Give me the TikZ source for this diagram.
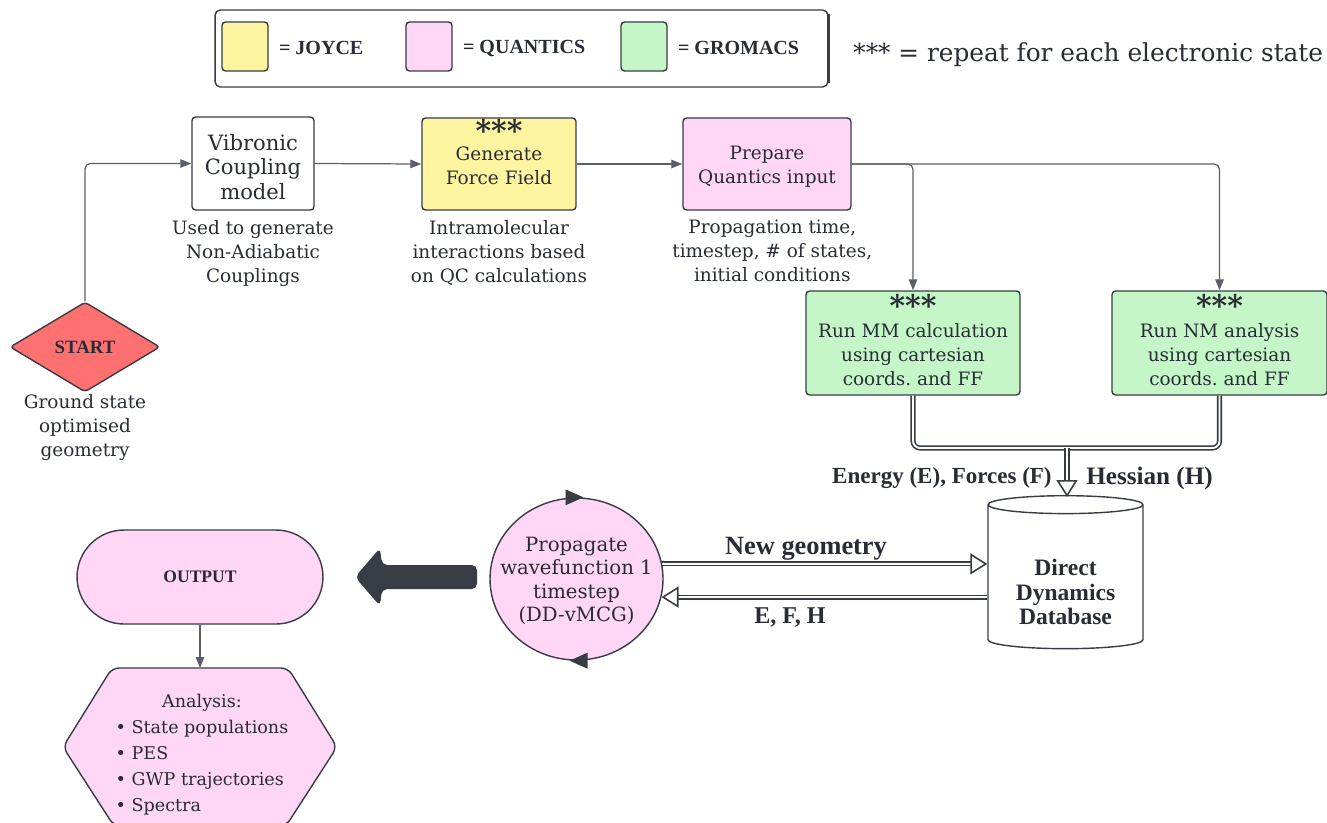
\documentclass[tikz,border=0pt]{standalone}
\usepackage{fontspec}
\setmainfont{DejaVu Serif}
\newfontfamily\labfont{Liberation Serif}
\usetikzlibrary{shapes.geometric,shapes.misc,arrows.meta,positioning}

\definecolor{joyce}{RGB}{255,245,160}
\definecolor{quant}{RGB}{255,214,245}
\definecolor{grom}{RGB}{196,246,200}
\definecolor{startred}{RGB}{255,112,112}
\definecolor{edge}{RGB}{56,61,69}
\definecolor{ink}{RGB}{40,44,52}
\definecolor{wire}{RGB}{90,95,105}

\newcommand{\bodyfont}{\fontsize{10.5}{13.7}\selectfont}
\newcommand{\starfont}{\bfseries\fontsize{17}{14}\selectfont}
\newcommand{\labbold}[1]{\labfont\bfseries\fontsize{#1}{14}\selectfont}

\tikzset{
  box/.style={draw=edge, line width=0.8pt, rounded corners=2pt, align=center, text=ink, font=\bodyfont, inner sep=0pt},
  txt/.style={align=center, text=ink, font=\bodyfont, inner sep=0pt},
  blab/.style={text=ink, font=\labbold{13}, inner sep=0pt},
  conn/.style={draw=wire, line width=0.7pt, rounded corners=3pt, -{Triangle[length=0.22cm, width=0.17cm]}},
  dbl/.style={draw=edge, double=white, double distance=1.1pt, line width=0.9pt, rounded corners=4pt},
  hollow/.style={-{Triangle[open, length=0.34cm, width=0.42cm, line width=0.9pt]}},
}

\begin{document}
\begin{tikzpicture}[x=0.02cm, y=0.02cm]
  \fill[white] (0,0) rectangle (1327,-822);
  \useasboundingbox (0,0) rectangle (1327,-822);

  % legend
  \node[box, rounded corners=3pt, minimum width=12.26cm, minimum height=1.54cm] (legend) at (521.5,-48.5) {};
  \draw[edge, line width=1.6pt] (legend.north east) ++(0,-0.1cm) -- ([yshift=0.1cm]legend.south east);
  \node[box, fill=joyce, minimum width=0.92cm, minimum height=0.98cm] (keyj) at (245,-46.5) {};
  \node[blab, font=\labbold{11.4}, right=0.2cm of keyj, yshift=-1pt] (keyjt) {= JOYCE};
  \node[box, fill=quant, minimum width=0.92cm, minimum height=0.98cm] (keyq) at (429,-46.5) {};
  \node[blab, font=\labbold{11.4}, right=0.2cm of keyq, yshift=-1pt] (keyqt) {= QUANTICS};
  \node[box, fill=grom, minimum width=0.92cm, minimum height=0.98cm] (keyg) at (644,-46.5) {};
  \node[blab, font=\labbold{11.4}, right=0.2cm of keyg, yshift=-1pt] (keygt) {= GROMACS};
  \node[txt, font=\fontsize{14.1}{16}\selectfont, anchor=west] (repeat) at (853,-55) {*** = repeat for each electronic state};

  % top row
  \node[box, fill=white, minimum width=2.44cm, minimum height=1.86cm] (vib) at (253,-163.5) {};
  \node[txt, font=\fontsize{12}{14}\selectfont] (vibt) at (253,-167) {Vibronic\\Coupling\\model};
  \node[txt, below=0.18cm of vib] (vibc) {Used to generate\\Non-Adiabatic\\Couplings};
  \node[box, fill=joyce, minimum width=3.08cm, minimum height=1.84cm] (gen) at (499,-164) {};
  \node[txt] (gent) at (499,-152) {{\starfont ***}\\[-3pt]Generate\\Force Field};
  \node[txt, below=0.18cm of gen] (genc) {Intramolecular\\interactions based\\on QC calculations};
  \node[box, fill=quant, minimum width=3.36cm, minimum height=1.84cm] (prep) at (767,-164) {};
  \node[txt] (prept) at (767,-167) {Prepare\\Quantics input};
  \node[txt, below=0.18cm of prep, xshift=3pt] (prepc) {Propagation time,\\timestep, \# of states,\\initial conditions};

  % start
  \node[diamond, draw=edge, line width=0.8pt, fill=startred, rounded corners=2pt, minimum width=3cm, minimum height=1.8cm, aspect=1.67, inner sep=0pt, text=ink, font=\labbold{10.7}] (start) at (85,-347) {START};
  \node[txt, below=0.02cm of start] (startc) {Ground state\\optimised\\geometry};

  % gromacs boxes
  \node[box, fill=grom, minimum width=4.28cm, minimum height=2.08cm] (mm) at (913,-343) {};
  \node[txt] (mmt) at (913,-340) {{\starfont ***}\\[-2pt]Run MM calculation\\using cartesian\\coords.\ and FF};
  \node[box, fill=grom, minimum width=4.3cm, minimum height=2.08cm] (nm) at (1219.5,-343) {};
  \node[txt] (nmt) at (1219.5,-340) {{\starfont ***}\\[-2pt]Run NM analysis\\using cartesian\\coords.\ and FF};

  % database and propagation
  \node[cylinder, shape border rotate=90, aspect=0.18, draw=edge, line width=0.8pt, fill=white, minimum width=3.1cm, minimum height=3.06cm, inner sep=0pt, align=center, font=\labbold{13.4}] (db) at (1065.5,-577) {\phantom{Direct}\\\phantom{Dynamics}\\\phantom{Database}};
  \node[txt, font=\labbold{13.4}] (dbt) at (1065.5,-592) {Direct\\Dynamics\\Database};
  \node[ellipse, draw=edge, line width=0.8pt, fill=quant, minimum width=3.46cm, minimum height=3.24cm, inner sep=0pt] (prop) at (576.5,-579) {};
  \node[txt, font=\fontsize{11.2}{13.3}\selectfont] (propt) at (576.5,-581) {Propagate\\wavefunction 1\\timestep\\(DD-vMCG)};
  \fill[edge] ([xshift=-0.22cm, yshift=0.16cm]prop.north) -- ([xshift=0.14cm]prop.north) -- ([xshift=-0.22cm, yshift=-0.16cm]prop.north) -- cycle;
  \fill[edge] ([xshift=0.22cm, yshift=0.16cm]prop.south) -- ([xshift=-0.14cm]prop.south) -- ([xshift=0.22cm, yshift=-0.16cm]prop.south) -- cycle;

  % output
  \fill[edge, rounded corners=3pt] (477,-565) -- (382,-565) -- (380,-548) -- (355,-577) -- (380,-606) -- (382,-589) -- (477,-589) -- cycle;
  \node[rounded rectangle, draw=edge, line width=0.8pt, fill=quant, minimum width=4.92cm, minimum height=1.88cm, inner sep=0pt, text=ink, font=\labbold{10}] (out) at (200,-577) {OUTPUT};
  \coordinate (anatop) at (200,-668);
  \filldraw[draw=edge, line width=0.8pt, fill=quant, rounded corners=4pt] (112,-668) -- (288,-668) -- (337,-747) -- (286,-826) -- (114,-826) -- (63,-747) -- cycle;
  \node[txt, font=\fontsize{10}{14.8}\selectfont] (ana) at (202,-754)
    {\begin{tabular}{@{}l@{}}\multicolumn{1}{@{}c@{}}{Analysis:}\\ \textbullet\ State populations\\ \textbullet\ PES\\ \textbullet\ GWP trajectories\\ \textbullet\ Spectra\end{tabular}};

  % connectors
  \draw[conn] (start.north) |- (vib.west);
  \draw[conn] (vib.east) -- (gen.west);
  \draw[conn] (gen.east) -- (prep.west);
  \draw[conn] (prep.east) -| (mm.north);
  \draw[conn] (prep.east) -| (nm.north);
  \draw[conn] (out.south) -- (anatop);

  \coordinate (merge) at (1067,-448);
  \draw[dbl] (mm.south) |- (merge);
  \draw[dbl] (nm.south) |- (merge);
  \draw[dbl, hollow] (merge) -- (1067,-497);
  \draw[dbl, hollow] (prop.10) -- (db.west |- prop.10);
  \draw[dbl, hollow] (db.west |- prop.-12) -- (prop.-12);

  % labels
  \node[blab, font=\labbold{13.1}, anchor=east] (eflab) at (1052,-478) {Energy (E), Forces (F)};
  \node[blab, font=\labbold{14.3}, anchor=west] (hlab) at (1086,-478) {Hessian (H)};
  \node[blab, font=\labbold{15}] (newlab) at (806,-549) {New geometry};
  \node[blab, font=\labbold{13.7}] (efhlab) at (790,-617) {E, F, H};
\end{tikzpicture}
\end{document}
